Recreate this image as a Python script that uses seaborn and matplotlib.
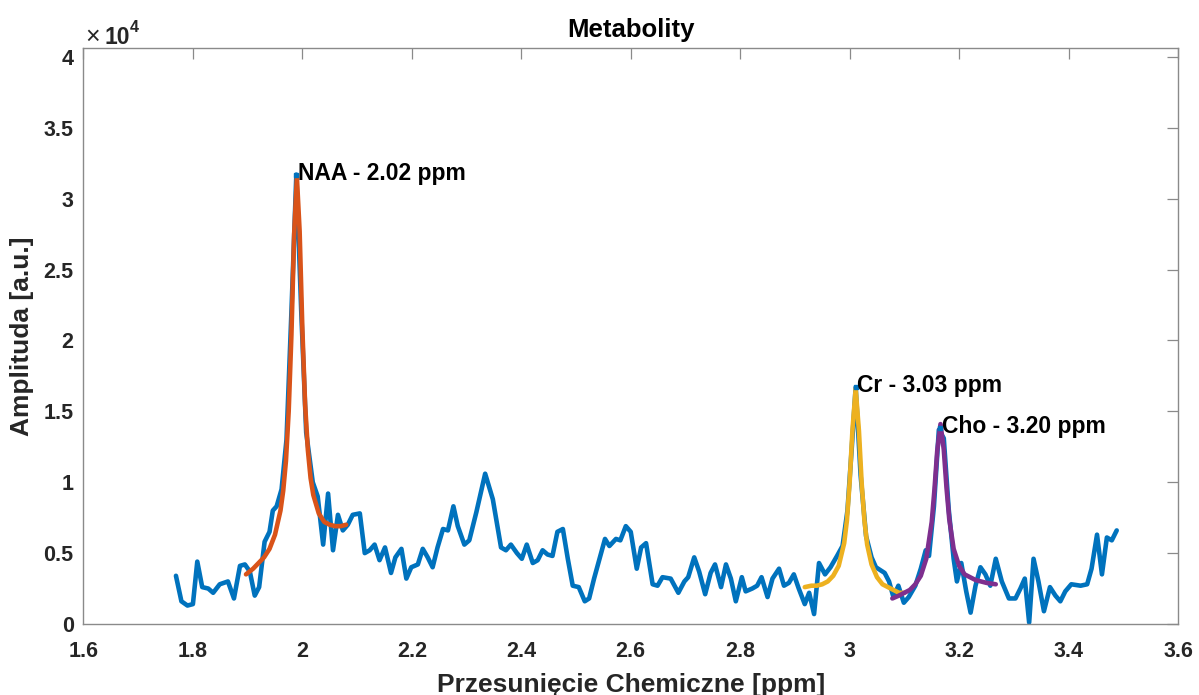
import numpy as np
import pandas as pd
import matplotlib
matplotlib.use("Agg")
import matplotlib.pyplot as plt
import seaborn as sns
from matplotlib.ticker import FuncFormatter

# ---------------- data (amplitude in units of 1e4) ----------------
ppm = [1.769, 1.779, 1.790, 1.800, 1.808, 1.817, 1.828, 1.837, 1.849, 1.864,
       1.875, 1.886, 1.895, 1.904, 1.913, 1.921, 1.931, 1.940, 1.946, 1.953,
       1.962, 1.971, 1.980, 1.989, 1.998, 2.007, 2.019, 2.028, 2.038, 2.047,
       2.056, 2.065, 2.074, 2.083, 2.092, 2.105, 2.114, 2.123, 2.132, 2.141,
       2.151, 2.162, 2.170, 2.181, 2.190, 2.199, 2.211, 2.220, 2.229, 2.238,
       2.247, 2.257, 2.266, 2.276, 2.284, 2.296, 2.305, 2.318, 2.334, 2.348,
       2.363, 2.372, 2.381, 2.392, 2.401, 2.410, 2.421, 2.430, 2.439, 2.448,
       2.457, 2.466, 2.476, 2.485, 2.494, 2.505, 2.516, 2.524, 2.533, 2.543,
       2.553, 2.561, 2.573, 2.581, 2.591, 2.600, 2.611, 2.619, 2.628, 2.640,
       2.649, 2.658, 2.673, 2.687, 2.698, 2.705, 2.716, 2.725, 2.736, 2.746,
       2.754, 2.765, 2.774, 2.783, 2.792, 2.803, 2.810, 2.822, 2.831, 2.839,
       2.850, 2.859, 2.871, 2.880, 2.889, 2.898, 2.907, 2.918, 2.926, 2.935,
       2.944, 2.955, 2.965, 2.977, 2.987, 2.996, 3.004, 3.011, 3.020, 3.030,
       3.040, 3.048, 3.056, 3.064, 3.072, 3.080, 3.089, 3.099, 3.108, 3.120,
       3.130, 3.139, 3.145, 3.154, 3.163, 3.172, 3.181, 3.190, 3.196, 3.204,
       3.213, 3.221, 3.230, 3.239, 3.248, 3.257, 3.267, 3.278, 3.291, 3.303,
       3.312, 3.320, 3.328, 3.336, 3.345, 3.355, 3.366, 3.376, 3.385, 3.394,
       3.405, 3.422, 3.434, 3.442, 3.452, 3.461, 3.470, 3.479, 3.488]
amplitude = [0.34, 0.16, 0.13, 0.14, 0.44, 0.26, 0.25, 0.22, 0.28, 0.30,
             0.18, 0.41, 0.42, 0.37, 0.20, 0.26, 0.58, 0.65, 0.80, 0.83,
             0.95, 1.30, 2.20, 3.17, 2.20, 1.35, 1.00, 0.90, 0.56, 0.92,
             0.52, 0.77, 0.66, 0.70, 0.77, 0.78, 0.50, 0.52, 0.56, 0.45,
             0.54, 0.36, 0.47, 0.53, 0.32, 0.40, 0.42, 0.53, 0.47, 0.40,
             0.54, 0.67, 0.66, 0.83, 0.69, 0.56, 0.59, 0.79, 1.06, 0.88,
             0.54, 0.52, 0.56, 0.50, 0.46, 0.56, 0.43, 0.45, 0.52, 0.49,
             0.48, 0.65, 0.67, 0.46, 0.27, 0.26, 0.16, 0.18, 0.32, 0.46,
             0.60, 0.55, 0.60, 0.59, 0.69, 0.65, 0.39, 0.54, 0.57, 0.28,
             0.27, 0.33, 0.32, 0.22, 0.30, 0.33, 0.47, 0.37, 0.21, 0.36,
             0.42, 0.26, 0.42, 0.32, 0.16, 0.33, 0.23, 0.25, 0.27, 0.33,
             0.19, 0.32, 0.39, 0.27, 0.29, 0.35, 0.25, 0.14, 0.22, 0.07,
             0.43, 0.35, 0.40, 0.48, 0.55, 0.80, 1.25, 1.67, 1.05, 0.62,
             0.47, 0.40, 0.38, 0.36, 0.30, 0.19, 0.27, 0.15, 0.19, 0.27,
             0.39, 0.52, 0.48, 0.83, 1.37, 1.31, 0.81, 0.46, 0.30, 0.43,
             0.23, 0.08, 0.27, 0.40, 0.35, 0.27, 0.46, 0.30, 0.18, 0.18,
             0.25, 0.32, 0.01, 0.46, 0.30, 0.09, 0.26, 0.20, 0.16, 0.23,
             0.28, 0.27, 0.28, 0.39, 0.63, 0.35, 0.61, 0.59, 0.66]

naa_ppm = [1.897, 1.91, 1.92, 1.93, 1.94, 1.95, 1.96, 1.965, 1.97, 1.975,
           1.98, 1.985, 1.99, 1.995, 2.00, 2.005, 2.01, 2.015, 2.02, 2.03,
           2.04, 2.05, 2.06, 2.07, 2.08]
naa_fit = [0.35, 0.39, 0.43, 0.47, 0.53, 0.63, 0.80, 0.94, 1.15, 1.50,
           2.04, 2.75, 3.15, 2.77, 2.08, 1.55, 1.23, 1.03, 0.91, 0.78,
           0.72, 0.70, 0.69, 0.69, 0.70]

cr_ppm = [2.918, 2.93, 2.94, 2.95, 2.96, 2.97, 2.98, 2.99, 2.995, 3.00,
          3.005, 3.011, 3.017, 3.022, 3.027, 3.032, 3.04, 3.05, 3.06, 3.07,
          3.08, 3.09, 3.10]
cr_fit = [0.26, 0.27, 0.27, 0.28, 0.30, 0.34, 0.41, 0.57, 0.73, 1.00,
          1.36, 1.66, 1.36, 0.99, 0.73, 0.56, 0.42, 0.33, 0.28, 0.26,
          0.24, 0.22, 0.22]

cho_ppm = [3.078, 3.09, 3.10, 3.11, 3.12, 3.13, 3.14, 3.15, 3.155, 3.16,
           3.166, 3.172, 3.177, 3.182, 3.19, 3.20, 3.21, 3.22, 3.23, 3.24,
           3.25, 3.267]
cho_fit = [0.18, 0.20, 0.22, 0.24, 0.28, 0.34, 0.46, 0.72, 0.95, 1.22,
           1.41, 1.23, 0.96, 0.74, 0.53, 0.41, 0.35, 0.33, 0.31, 0.30,
           0.29, 0.28]

labels = ["NAA - 2.02 ppm", "Cr - 3.03 ppm", "Cho - 3.20 ppm"]
label_x = [1.989, 3.011, 3.165]
label_y = [3.17, 1.67, 1.38]

x_ticks = [1.6, 1.8, 2.0, 2.2, 2.4, 2.6, 2.8, 3.0, 3.2, 3.4, 3.6]
y_ticks = [0, 0.5, 1, 1.5, 2, 2.5, 3, 3.5, 4]

# ---------------- plotting ----------------
sns.set_style("white")
plt.rcParams["font.family"] = ["Liberation Sans", "DejaVu Sans"]

fig = plt.figure(figsize=(11.99, 6.95), dpi=100)
ax = fig.add_axes([0.0696, 0.1022, 0.9129, 0.8287])

blue, orange, yellow, purple = "#0072BD", "#D95319", "#EDB120", "#7E2F8E"

sns.lineplot(x=ppm, y=amplitude, ax=ax, color=blue, linewidth=3.3,
             sort=False, estimator=None)
sns.lineplot(x=naa_ppm, y=naa_fit, ax=ax, color=orange, linewidth=3.3,
             sort=False, estimator=None)
sns.lineplot(x=cr_ppm, y=cr_fit, ax=ax, color=yellow, linewidth=3.3,
             sort=False, estimator=None)
sns.lineplot(x=cho_ppm, y=cho_fit, ax=ax, color=purple, linewidth=3.3,
             sort=False, estimator=None)

for t, xv, yv in zip(labels, label_x, label_y):
    ax.plot([xv], [yv], marker="s", markersize=2.5, color=blue, linestyle="none")
    ax.text(xv + 0.003, yv + 0.01, t, fontsize=16.5, fontweight="bold",
            color="black", ha="left", va="center")

ax.set_xlim(1.6, 3.6)
ax.set_ylim(0, 4.063)
ax.set_xticks(x_ticks)
ax.set_yticks(y_ticks)
fmt = FuncFormatter(lambda v, p: ("%g" % round(v, 2)))
ax.xaxis.set_major_formatter(fmt)
ax.yaxis.set_major_formatter(fmt)

spine_col = "#8a8a8a"
for s in ax.spines.values():
    s.set_visible(True)
    s.set_color(spine_col)
    s.set_linewidth(1.0)
ax.tick_params(axis="both", which="major", direction="in", length=8, width=0.9,
               color=spine_col, top=True, right=True, labelsize=15.5)
ax.tick_params(axis="x", pad=12)
ax.tick_params(axis="y", pad=7)
for lbl in ax.get_xticklabels() + ax.get_yticklabels():
    lbl.set_fontweight("bold")
    lbl.set_color("#262626")

ax.set_xlabel("Przesunięcie Chemiczne [ppm]", fontsize=19, fontweight="bold",
              color="#262626", labelpad=8)
ax.set_ylabel("Amplituda [a.u.]", fontsize=19, fontweight="bold",
              color="#262626", labelpad=7)
ax.set_title("Metabolity", fontsize=18.5, fontweight="bold", color="black", pad=8)

# exponent marker
fig.text(85 / 1199, 1 - 37 / 695, "×", fontsize=18, color="#262626",
         ha="left", va="center")
fig.text(104 / 1199, 1 - 37 / 695, "10", fontsize=16.5, fontweight="bold",
         color="#262626", ha="left", va="center")
fig.text(130 / 1199, 1 - 27 / 695, "4", fontsize=11.5, fontweight="bold",
         color="#262626", ha="left", va="center")

fig.savefig("out.png", dpi=100)
